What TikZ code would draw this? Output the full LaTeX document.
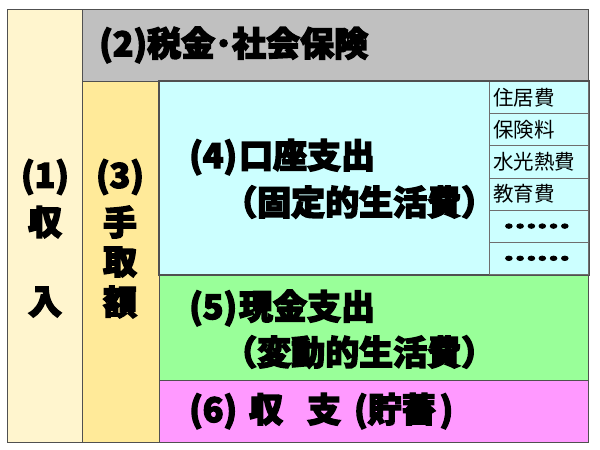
\documentclass[tikz,border=0pt]{standalone}
\usepackage{fontspec}
\newfontfamily\jp{Noto Sans CJK JP}[BoldFeatures={FakeBold=4}]
\usetikzlibrary{positioning}
\definecolor{cInc}{RGB}{255,245,206}
\definecolor{cNet}{RGB}{255,234,153}
\definecolor{cTax}{RGB}{192,192,192}
\definecolor{cFix}{RGB}{204,255,255}
\definecolor{cVar}{RGB}{153,255,153}
\definecolor{cSav}{RGB}{255,153,255}
\definecolor{cLine}{RGB}{80,80,80}
\definecolor{cThin}{RGB}{110,110,110}
\tikzset{
  cell/.style={draw=cLine, line width=1.1pt, rectangle, inner sep=0pt, anchor=north west},
  subcell/.style={draw=cThin, line width=0.8pt, rectangle, inner sep=0pt, anchor=north west, fill=cFix,
    minimum width=99.5pt, minimum height=32.2pt},
  big/.style={inner sep=0pt, font=\jp\bfseries\fontsize{34}{40}\selectfont},
  small/.style={inner sep=0pt, anchor=west, font=\jp\fontsize{20.5}{24}\selectfont},
  dots/.style={inner sep=0pt, anchor=west, font=\jp\bfseries\fontsize{20.5}{24}\selectfont}
}
\begin{document}
\begin{tikzpicture}[x=1pt,y=-1pt]
\useasboundingbox (0,0) rectangle (600,450);
\fill[white] (0,0) rectangle (600,450);
% cells
\node (c1) [cell, fill=cInc, minimum width=75pt, minimum height=433pt] at (7,9) {};
\node (c2) [cell, fill=cTax, minimum width=506pt, minimum height=72pt] at (82,9) {};
\node (c3) [cell, fill=cNet, minimum width=77pt, minimum height=361pt] at (82,81) {};
\node (c4) [cell, fill=cFix, minimum width=429pt, minimum height=193pt] at (159,81) {};
\node (c5) [cell, fill=cVar, minimum width=429pt, minimum height=106pt] at (159,274) {};
\node (c6) [cell, fill=cSav, minimum width=429pt, minimum height=62pt] at (159,380) {};
% sub cells
\node (s1) [subcell] at (488.5,81) {};
\node (s2) [subcell] at (488.5,113.2) {};
\node (s3) [subcell] at (488.5,145.4) {};
\node (s4) [subcell] at (488.5,177.6) {};
\node (s5) [subcell] at (488.5,209.8) {};
\node (s6) [subcell] at (488.5,242) {};
\draw[draw=cLine, line width=1.1pt] (c4.north east) rectangle (c4.south west);
% labels
\node (t2) [big, anchor=west] at (99,45) {(2)税金･社会保険};
\node (t1a) [big] at (45,177) {(1)};
\node (t1b) [big] at (45,222) {収};
\node (t1c) [big] at (45,302) {入};
\node (t3a) [big] at (120,177) {(3)};
\node (t3b) [big] at (120,222) {手};
\node (t3c) [big] at (120,262) {取};
\node (t3d) [big] at (120,302) {額};
\node (t4a) [big, anchor=west] at (189,157) {(4)\hspace{2pt}口座支出};
\node (t4b) [big, anchor=west] at (223,202) {（固定的生活費）};
\node (t5a) [big, anchor=west] at (189,308) {(5)\hspace{2pt}現金支出};
\node (t5b) [big, anchor=west] at (223,352) {（変動的生活費）};
\node (t6) [big, anchor=west] at (189,411) {(6)\hspace{12pt}収\hspace{24pt}支\hspace{13pt}(貯蓄\hspace{4pt})};
\node (u1) [small] at (493,97.3) {住居費};
\node (u2) [small] at (493,129.5) {保険料};
\node (u3) [small] at (493,161.7) {水光熱費};
\node (u4) [small] at (493,193.9) {教育費};
\node (u5) [dots] at (503,226.1) {\scalebox{1.45}[1]{……}};
\node (u6) [dots] at (503,258.3) {\scalebox{1.45}[1]{……}};
\end{tikzpicture}
\end{document}
